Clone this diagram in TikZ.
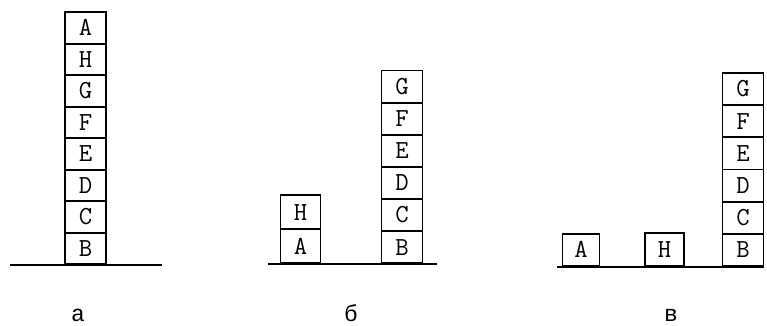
\documentclass[tikz,border=0pt]{standalone}
\usepackage{fontspec}
\newfontfamily\cyrmono{Liberation Mono}
\begin{document}
\begin{tikzpicture}[x=1pt,y=-1pt,
  blk/.style={draw, line width=1.8pt, inner sep=0pt, minimum width=41pt,
    anchor=south, font=\ttfamily\fontsize{26}{26}\selectfont},
  ground/.style={line width=1.8pt},
  captxt/.style={inner sep=0pt, font=\cyrmono\fontsize{23}{23}\selectfont}]
\useasboundingbox (0,0) rectangle (767,325);
% panel a
\foreach \t [count=\i] in {B,C,D,E,F,G,H,A}
  \node[blk, minimum height=31.5pt] (a\i) at (85.5,{265-31.5*(\i-1)}) {\t};
\coordinate (ga1) at (10,265);
\coordinate (ga2) at (162,265);
\draw[ground] (ga1) -- (ga2);
% panel b
\node[blk, minimum width=40pt, minimum height=34pt] (bA) at (300.5,264) {A};
\node[blk, minimum width=40pt, minimum height=34pt] (bH) at (300.5,230) {H};
\foreach \t [count=\i] in {B,C,D,E,F,G}
  \node[blk, minimum height=32.1pt] (b\i) at (402,{264-32.1*(\i-1)}) {\t};
\coordinate (gb1) at (268,264);
\coordinate (gb2) at (437,264);
\draw[ground] (gb1) -- (gb2);
% panel c
\node[blk, minimum width=37pt, minimum height=32.5pt] (cA) at (581,267) {A};
\node[blk, minimum width=39pt, minimum height=33.5pt] (cH) at (664.5,267) {H};
\foreach \t [count=\i] in {B,C,D,E,F,G}
  \node[blk, minimum height=32.2pt] (c\i) at (743,{267-32.2*(\i-1)}) {\t};
\coordinate (gc1) at (557,267);
\coordinate (gc2) at (764,267);
\draw[ground] (gc1) -- (gc2);
% captions
\node[captxt] (la) at (78,315.5) {а};
\node[captxt] (lb) at (351,313.5) {б};
\node[captxt] (lc) at (671,315.5) {в};
\end{tikzpicture}
\end{document}
